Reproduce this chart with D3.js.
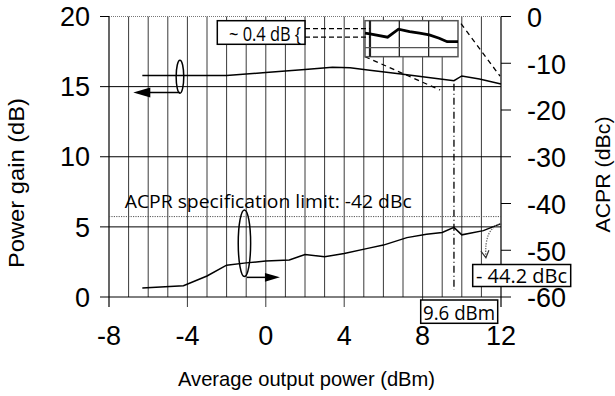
<!DOCTYPE html>
<html lang="en">

<head>
    <meta charset="UTF-8">
    <title>Power gain and ACPR vs output power</title>
    <script src="https://d3js.org/d3.v7.min.js"></script>
    <style>
        body {
            margin: 0;
            background: #fff;
        }

        .tick-label {
            font-family: "Liberation Sans", Arial, sans-serif;
            font-size: 27px;
            fill: #000;
        }

        .axis-title {
            font-family: "Liberation Sans", Arial, sans-serif;
            fill: #000;
        }

        .note {
            font-family: "Open Sans", sans-serif;
            fill: #000;
        }
    </style>
</head>

<body>
    <svg width="615" height="396"></svg>

    <script>
        // data
        const gainX = [-6.3, -2, 0, 2, 3.4, 4.3, 5.2, 6.9, 8.6, 9.6, 10.0, 10.9, 12];
        const gainY = [15.8, 15.8, 16.0, 16.22, 16.38, 16.35, 16.19, 15.9, 15.59, 15.42, 15.76, 15.54, 15.19];

        const acprX = [-6.3, -4.2, -3.0, -2.0, -1.0, 0, 1.2, 2.0, 3.0, 4.0, 5.2, 6.0, 7.2, 8.2, 9.0, 9.6, 10.0, 11.1, 12];
        const acprY = [-58.1, -57.6, -55.5, -53.2, -52.7, -52.3, -52.1, -50.9, -51.4, -50.7, -49.6, -48.9, -47.3, -46.6, -46.2, -45.1, -46.7, -45.8, -44.3];

        // zoomed inset of the gain curve
        const insetX = [8.83, 9.0, 9.6, 9.97, 10.35, 10.69, 11.02, 11.36, 11.63, 12.0];
        const insetY = [15.58, 15.55, 15.42, 15.74, 15.64, 15.58, 15.51, 15.38, 15.24, 15.24];

        const xTicks = [-8, -4, 0, 4, 8, 12];
        const gainTicks = [0, 5, 10, 15, 20];
        const acprTicks = [0, -10, -20, -30, -40, -50, -60];
        const acprLimit = -42.8;    // where the dotted line sits in the figure
        const markerX = 9.6;

        const svg = d3.select("svg");

        // scales
        const x = d3.scaleLinear().domain([-8, 12]).range([109, 501]);
        const yG = d3.scaleLinear().domain([0, 20]).range([297, 16.5]);
        const yA = d3.scaleLinear().domain([-60, 0]).range([297, 16.5]);
        const xi = d3.scaleLinear().domain([8.83, 12]).range([365, 458]);
        const yi = d3.scaleLinear().domain([14.64, 16.08]).range([56.7, 20.7]);

        const plotTop = yG(20), plotBottom = yG(0), plotLeft = x(-8), plotRight = x(12);

        // vertical grid, every 1 dBm
        svg.append("g").selectAll("line")
            .data(d3.range(-7, 12))
            .join("line")
            .attr("x1", d => x(d)).attr("x2", d => x(d))
            .attr("y1", plotTop)
            .attr("y2", d => xTicks.includes(d) ? plotBottom + 10 : plotBottom)
            .attr("stroke", "#3a3a3a")
            .attr("stroke-width", 1);

        // horizontal grid from the gain axis
        svg.append("g").selectAll("line")
            .data(gainTicks.filter(d => d < 20))
            .join("line")
            .attr("x1", plotLeft - 9).attr("x2", plotRight)
            .attr("y1", d => yG(d)).attr("y2", d => yG(d))
            .attr("stroke", "#000")
            .attr("stroke-width", 1);

        // dotted top border
        svg.append("line")
            .attr("x1", plotLeft).attr("x2", plotRight)
            .attr("y1", plotTop).attr("y2", plotTop)
            .attr("stroke", "#777")
            .attr("stroke-dasharray", "1,1");
        svg.append("line")
            .attr("x1", plotLeft - 9).attr("x2", plotLeft)
            .attr("y1", plotTop).attr("y2", plotTop)
            .attr("stroke", "#000");

        // axis lines
        svg.append("line")
            .attr("x1", plotLeft).attr("x2", plotLeft)
            .attr("y1", plotTop).attr("y2", plotBottom + 10)
            .attr("stroke", "#000").attr("stroke-width", 1.2);
        svg.append("line")
            .attr("x1", plotRight).attr("x2", plotRight)
            .attr("y1", plotTop).attr("y2", plotBottom + 10)
            .attr("stroke", "#000").attr("stroke-width", 1.2);

        // right axis ticks
        svg.append("g").selectAll("line")
            .data(acprTicks)
            .join("line")
            .attr("x1", plotRight).attr("x2", plotRight + 10)
            .attr("y1", d => yA(d)).attr("y2", d => yA(d))
            .attr("stroke", "#000");

        // ACPR limit
        svg.append("line")
            .attr("x1", plotLeft).attr("x2", plotRight)
            .attr("y1", yA(acprLimit)).attr("y2", yA(acprLimit))
            .attr("stroke", "#555")
            .attr("stroke-dasharray", "1.2,1.2");

        // tick labels
        svg.append("g").selectAll("text")
            .data(gainTicks)
            .join("text")
            .attr("class", "tick-label")
            .attr("x", 90)
            .attr("y", d => yG(d))
            .attr("dy", "0.36em")
            .attr("text-anchor", "end")
            .text(d => d);

        svg.append("g").selectAll("text")
            .data(acprTicks)
            .join("text")
            .attr("class", "tick-label")
            .attr("x", 527)
            .attr("y", d => yA(d))
            .attr("dy", "0.38em")
            .text(d => d);

        svg.append("g").selectAll("text")
            .data(xTicks)
            .join("text")
            .attr("class", "tick-label")
            .attr("x", d => x(d))
            .attr("y", 345)
            .attr("text-anchor", "middle")
            .text(d => d);

        // axis titles
        svg.append("text")
            .attr("class", "axis-title")
            .attr("x", 306.5).attr("y", 386)
            .attr("text-anchor", "middle")
            .style("font-size", "21px")
            .attr("textLength", 257)
            .attr("lengthAdjust", "spacingAndGlyphs")
            .text("Average output power (dBm)");

        svg.append("text")
            .attr("class", "axis-title")
            .attr("transform", "translate(24,183) rotate(-90)")
            .attr("text-anchor", "middle")
            .style("font-size", "22px")
            .attr("textLength", 170)
            .attr("lengthAdjust", "spacingAndGlyphs")
            .text("Power gain (dB)");

        svg.append("text")
            .attr("class", "axis-title")
            .attr("transform", "translate(610,174.5) rotate(-90)")
            .attr("text-anchor", "middle")
            .style("font-size", "21px")
            .attr("textLength", 116)
            .attr("lengthAdjust", "spacingAndGlyphs")
            .text("ACPR (dBc)");

        // curves
        const gainLine = d3.line().x(d => x(d[0])).y(d => yG(d[1]));
        const acprLine = d3.line().x(d => x(d[0])).y(d => yA(d[1]));

        svg.append("path")
            .attr("d", gainLine(d3.zip(gainX, gainY)))
            .attr("fill", "none").attr("stroke", "#000").attr("stroke-width", 1.5);

        svg.append("path")
            .attr("d", acprLine(d3.zip(acprX, acprY)))
            .attr("fill", "none").attr("stroke", "#000").attr("stroke-width", 1.5);

        // dash-dot marker at 9.6 dBm
        svg.append("line")
            .attr("x1", x(markerX)).attr("x2", x(markerX))
            .attr("y1", yG(15.42) + 3).attr("y2", yG(0.5))
            .attr("stroke", "#000").attr("stroke-width", 1.3)
            .attr("stroke-dasharray", "7,3,1,3");

        // legend ellipses and arrows
        const arrowHead = (tipX, tipY, dir, len, half) =>
            `M${tipX},${tipY} L${tipX - dir * len},${tipY - half} L${tipX - dir * len},${tipY + half} Z`;

        svg.append("ellipse")
            .attr("cx", x(-4.38)).attr("cy", yG(15.71))
            .attr("rx", 3.8).attr("ry", 16.5)
            .attr("fill", "none").attr("stroke", "#000").attr("stroke-width", 1.5);
        svg.append("line")
            .attr("x1", x(-4.38)).attr("x2", x(-6.2))
            .attr("y1", yG(14.58)).attr("y2", yG(14.58))
            .attr("stroke", "#000").attr("stroke-width", 1.5);
        svg.append("path")
            .attr("d", arrowHead(x(-6.76), yG(14.58), -1, 17, 5))
            .attr("fill", "#000");

        svg.append("ellipse")
            .attr("cx", x(-1.09)).attr("cy", yG(3.83))
            .attr("rx", 6.2).attr("ry", 33.3)
            .attr("fill", "none").attr("stroke", "#000").attr("stroke-width", 1.5);
        svg.append("line")
            .attr("x1", x(-0.97)).attr("x2", x(0.2))
            .attr("y1", yG(1.4)).attr("y2", yG(1.4))
            .attr("stroke", "#000").attr("stroke-width", 1.5);
        svg.append("path")
            .attr("d", arrowHead(x(0.72), yG(1.4), 1, 15, 4.3))
            .attr("fill", "#000");

        // callout lines from the inset
        const callout = [
            [[xi(8.83), yi(14.64)], [x(8.89), yG(14.76)]],
            [[xi(12) + 3, yi(15.96)], [x(11.95), yG(15.75)]]
        ];
        svg.append("g").selectAll("line")
            .data(callout)
            .join("line")
            .attr("x1", d => d[0][0]).attr("y1", d => d[0][1])
            .attr("x2", d => d[1][0]).attr("y2", d => d[1][1])
            .attr("stroke", "#000").attr("stroke-width", 1.3)
            .attr("stroke-dasharray", "5,4");

        // inset box
        const inset = svg.append("g");
        inset.append("rect")
            .attr("x", xi(8.83)).attr("y", yi(16.08))
            .attr("width", xi(12) - xi(8.83)).attr("height", yi(14.64) - yi(16.08))
            .attr("fill", "#fff").attr("stroke", "#555").attr("stroke-width", 1.5);
        inset.selectAll(".iv")
            .data([9, 10, 11])
            .join("line")
            .attr("x1", d => xi(d)).attr("x2", d => xi(d))
            .attr("y1", yi(16.08)).attr("y2", yi(14.64))
            .attr("stroke", "#222")
            .attr("stroke-width", d => d === 9 ? 2.2 : 1.3);
        inset.append("line")
            .attr("x1", xi(8.83)).attr("x2", xi(12))
            .attr("y1", yi(15)).attr("y2", yi(15))
            .attr("stroke", "#555").attr("stroke-width", 1.3);
        inset.append("path")
            .attr("d", d3.line().x(d => xi(d[0])).y(d => yi(d[1]))(d3.zip(insetX, insetY)))
            .attr("fill", "none").attr("stroke", "#000").attr("stroke-width", 2.8);

        // ~0.4 dB note with dashed guides
        svg.append("g").selectAll("line")
            .data([15.76, 15.42])
            .join("line")
            .attr("x1", 305).attr("x2", xi(9.0))
            .attr("y1", d => yi(d)).attr("y2", d => yi(d))
            .attr("stroke", "#000").attr("stroke-width", 1.3)
            .attr("stroke-dasharray", "5,3");

        function noteBox(bx, by, bw, bh, tx, ty, tw, size, label) {
            svg.append("rect")
                .attr("x", bx).attr("y", by).attr("width", bw).attr("height", bh)
                .attr("fill", "#fff").attr("stroke", "#000").attr("stroke-width", 1.5);
            svg.append("text")
                .attr("class", "note")
                .attr("x", tx).attr("y", ty)
                .style("font-size", size + "px")
                .attr("textLength", tw)
                .attr("lengthAdjust", "spacingAndGlyphs")
                .text(label);
        }

        noteBox(217.3, 20.7, 87.7, 23.6, 229, 41, 72, 19.5, "~ 0.4 dB {");

        // ACPR limit text
        svg.append("text")
            .attr("class", "note")
            .attr("x", 124.7).attr("y", 207.5)
            .style("font-size", "17.5px")
            .attr("textLength", 287)
            .attr("lengthAdjust", "spacingAndGlyphs")
            .text("ACPR specification limit: -42 dBc");

        // dotted arrow to the -44.2 dBc note
        svg.append("path")
            .attr("d", `M${x(12)},${yA(-44.3)} Q${x(11.13)},${yA(-45.25)} ${x(11.23)},${yA(-51.5)}`)
            .attr("fill", "none").attr("stroke", "#666").attr("stroke-width", 1.3)
            .attr("stroke-dasharray", "1.3,1.3");
        svg.append("path")
            .attr("d", `M${x(11.23) - 5},${yA(-50.2)} L${x(11.23)},${yA(-51.6)} L${x(11.23) + 3},${yA(-50.0)}`)
            .attr("fill", "none").attr("stroke", "#333").attr("stroke-width", 1.2);

        noteBox(472.7, 264.5, 98, 22, 476, 283.3, 91, 19.5, "- 44.2 dBc");
        noteBox(420.7, 300, 77, 23.3, 423, 320, 72, 20, "9.6 dBm");
    </script>
</body>

</html>
